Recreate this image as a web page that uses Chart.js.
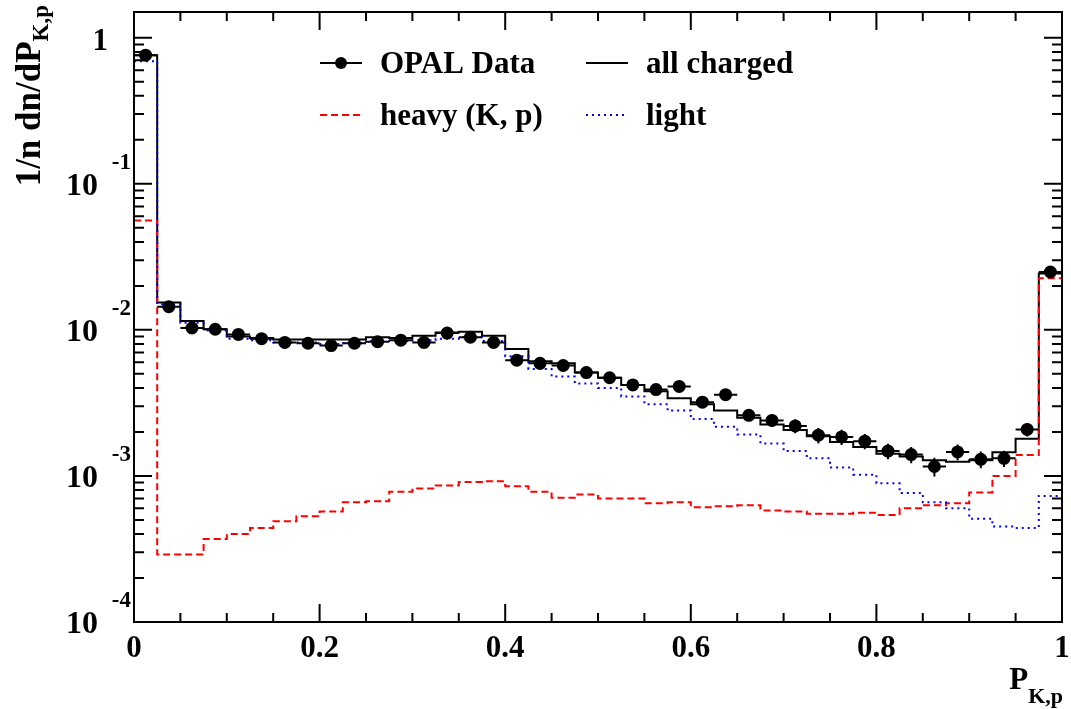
<!DOCTYPE html>
<html>
<head>
<meta charset="utf-8">
<script src="https://cdn.jsdelivr.net/npm/chart.js@4.4.1/dist/chart.umd.min.js"></script>
<style>
  html, body { margin: 0; padding: 0; background: #fff; }
  canvas { display: block; }
</style>
</head>
<body>
<canvas id="chart" width="1071" height="709"></canvas>
<script>
// bin edges in P_K,p (40 bins of 0.025)
const binEdges = [0.000, 0.025, 0.050, 0.075, 0.100, 0.125, 0.150, 0.175, 0.200, 0.225,
  0.250, 0.275, 0.300, 0.325, 0.350, 0.375, 0.400, 0.425, 0.450, 0.475,
  0.500, 0.525, 0.550, 0.575, 0.600, 0.625, 0.650, 0.675, 0.700, 0.725,
  0.750, 0.775, 0.800, 0.825, 0.850, 0.875, 0.900, 0.925, 0.950, 0.975, 1.000];

const opalData = [0.76, 0.0144, 0.0103, 0.0101, 0.0093, 0.0087, 0.0082, 0.0081, 0.0078, 0.0081,
  0.0083, 0.0085, 0.0082, 0.0095, 0.0089, 0.0082, 0.0062, 0.0059, 0.0057, 0.0051,
  0.0047, 0.0042, 0.0039, 0.0041, 0.0032, 0.0036, 0.0026, 0.0024, 0.0022, 0.0019,
  0.00185, 0.00173, 0.00148, 0.0014, 0.00116, 0.00146, 0.0013, 0.00132, 0.00208, 0.0249];

const opalErr = [0.01, 0.0004, 0.0003, 0.0003, 0.0003, 0.0003, 0.0002, 0.0002, 0.0002, 0.0002,
  0.0002, 0.0002, 0.0002, 0.0003, 0.0003, 0.0003, 0.0003, 0.0004, 0.0004, 0.0003,
  0.0003, 0.0003, 0.0003, 0.0003, 0.0002, 0.0003, 0.0002, 0.00024, 0.00024, 0.00023,
  0.00022, 0.00021, 0.00018, 0.00018, 0.00017, 0.00018, 0.00017, 0.00017, 0.00022, 0.0012];

const allCharged = [0.76, 0.0154, 0.0115, 0.0101, 0.0090, 0.0088, 0.0086, 0.0086, 0.0086, 0.0086,
  0.0089, 0.0088, 0.0091, 0.0096, 0.0097, 0.0091, 0.0074, 0.0061, 0.0059, 0.0051,
  0.0047, 0.0042, 0.0038, 0.0034, 0.0031, 0.0028, 0.0025, 0.00225, 0.00206, 0.00187,
  0.00171, 0.00158, 0.00142, 0.00136, 0.00128, 0.00125, 0.00128, 0.00145, 0.0018, 0.0243];

const heavyKp = [0.056, 0.00029, 0.00029, 0.00037, 0.00040, 0.00044, 0.00049, 0.00053, 0.00057, 0.00066,
  0.00067, 0.00078, 0.00082, 0.00086, 0.00091, 0.00092, 0.00085, 0.00078, 0.00071, 0.000745,
  0.00070, 0.00070, 0.00065, 0.00066, 0.00061, 0.00062, 0.00063, 0.00058, 0.00057, 0.00055,
  0.00055, 0.00056, 0.00054, 0.00060, 0.00063, 0.00065, 0.00077, 0.00100, 0.00139, 0.0226];

const lightHad = [0.69, 0.0150, 0.0112, 0.0099, 0.0087, 0.0085, 0.0082, 0.0082, 0.0080, 0.0081,
  0.0084, 0.0084, 0.0085, 0.0087, 0.0089, 0.0084, 0.0066, 0.0054, 0.0048, 0.0043,
  0.0040, 0.0035, 0.0031, 0.0028, 0.00245, 0.00217, 0.00192, 0.00167, 0.00148, 0.00132,
  0.00114, 0.00102, 0.00089, 0.000765, 0.00066, 0.00060, 0.00051, 0.00045, 0.00044, 0.00073];

const xTickLabels = ['0', '0.2', '0.4', '0.6', '0.8', '1'];
const xTickValues = [0, 0.2, 0.4, 0.6, 0.8, 1];
const yDecades = [0, -1, -2, -3, -4];

const FONT = '"Liberation Serif", "Times New Roman", serif';

const histPoints = vals => binEdges.map((e, i) => ({ x: e, y: vals[Math.min(i, vals.length - 1)] }));
const binCentres = binEdges.slice(0, -1).map((e, i) => (e + binEdges[i + 1]) / 2);

const errorBars = {
  id: 'errorBars',
  afterDatasetsDraw(chart) {
    const { ctx, scales: { x, y } } = chart;
    ctx.save();
    ctx.strokeStyle = '#000';
    ctx.lineWidth = 2;
    binCentres.forEach((c, i) => {
      const px = x.getPixelForValue(c);
      const py = y.getPixelForValue(opalData[i]);
      ctx.beginPath();
      ctx.moveTo(x.getPixelForValue(binEdges[i]), py);
      ctx.lineTo(x.getPixelForValue(binEdges[i + 1]), py);
      ctx.moveTo(px, y.getPixelForValue(opalData[i] - opalErr[i]));
      ctx.lineTo(px, y.getPixelForValue(opalData[i] + opalErr[i]));
      ctx.stroke();
    });
    ctx.restore();
  }
};

const frame = {
  id: 'frame',
  afterDraw(chart) {
    const { ctx, chartArea: a, scales: { x, y } } = chart;
    ctx.save();
    ctx.strokeStyle = '#000';
    ctx.fillStyle = '#000';
    ctx.lineWidth = 2;
    ctx.strokeRect(a.left, a.top, a.right - a.left, a.bottom - a.top);

    // x ticks, bottom and top
    ctx.beginPath();
    for (let k = 0; k <= 20; k++) {
      const v = k * 0.05;
      const px = x.getPixelForValue(v);
      const len = k % 4 === 0 ? 18 : 9;
      ctx.moveTo(px, a.bottom); ctx.lineTo(px, a.bottom - len);
      ctx.moveTo(px, a.top); ctx.lineTo(px, a.top + len);
    }
    // y ticks, left and right
    yDecades.forEach(d => {
      for (let m = 1; m <= 9; m++) {
        const v = m * Math.pow(10, d);
        if (v > y.max || v <= y.min) continue;
        const py = y.getPixelForValue(v);
        const len = m === 1 ? 18 : 10;
        ctx.moveTo(a.left, py); ctx.lineTo(a.left + len, py);
        ctx.moveTo(a.right, py); ctx.lineTo(a.right - len, py);
      }
    });
    ctx.stroke();

    // x tick labels
    ctx.font = 'bold 31px ' + FONT;
    ctx.textAlign = 'center';
    ctx.textBaseline = 'alphabetic';
    xTickValues.forEach((v, i) => {
      ctx.fillText(xTickLabels[i], x.getPixelForValue(v), 657);
    });

    // y tick labels
    yDecades.forEach(d => {
      const py = y.getPixelForValue(Math.pow(10, d));
      ctx.textAlign = 'right';
      if (d === 0) {
        ctx.font = 'bold 31px ' + FONT;
        ctx.fillText('1', 108, py + 12);
      } else {
        ctx.font = 'bold 32px ' + FONT;
        ctx.fillText('10', 98, py + 11);
        ctx.font = 'bold 23px ' + FONT;
        ctx.fillText(String(d), 131, py - 15);
      }
    });

    // y axis title
    ctx.save();
    ctx.font = 'bold 35px ' + FONT;
    const mainY = '1/n dn/dP';
    const wMain = ctx.measureText(mainY).width;
    ctx.font = 'bold 23px ' + FONT;
    const wSub = ctx.measureText('K,p').width;
    ctx.translate(40, 5 + wMain + wSub);
    ctx.rotate(-Math.PI / 2);
    ctx.textAlign = 'left';
    ctx.font = 'bold 35px ' + FONT;
    ctx.fillText(mainY, 0, 0);
    ctx.font = 'bold 23px ' + FONT;
    ctx.fillText('K,p', wMain, 8);
    ctx.restore();

    // x axis title
    ctx.textAlign = 'right';
    ctx.font = 'bold 22px ' + FONT;
    const wSubX = ctx.measureText('K,p').width;
    ctx.fillText('K,p', 1063, 703);
    ctx.font = 'bold 31px ' + FONT;
    ctx.fillText('P', 1063 - wSubX, 689);

    // legend
    const ds = chart.data.datasets;
    const entry = (d, x0, yc, withMarker) => {
      ctx.save();
      ctx.strokeStyle = d.borderColor;
      ctx.lineWidth = d.borderWidth || 2;
      ctx.setLineDash(d.borderDash || []);
      ctx.beginPath();
      ctx.moveTo(x0, yc); ctx.lineTo(x0 + 42, yc);
      ctx.stroke();
      if (withMarker) {
        ctx.fillStyle = d.pointBackgroundColor;
        ctx.beginPath();
        ctx.arc(x0 + 21, yc, 6, 0, Math.PI * 2);
        ctx.fill();
      }
      ctx.restore();
      ctx.textAlign = 'left';
      ctx.font = 'bold 31px ' + FONT;
      ctx.fillText(d.label, x0 + 60, yc + 10);
    };
    entry(ds[0], 320, 63, true);
    entry(ds[3], 586, 63, false);
    entry(ds[2], 320, 115, false);
    entry(ds[1], 586, 115, false);
    ctx.restore();
  }
};

new Chart(document.getElementById('chart'), {
  type: 'line',
  data: {
    datasets: [
      {
        label: 'OPAL Data',
        data: binCentres.map((c, i) => ({ x: c, y: opalData[i] })),
        showLine: false,
        borderColor: '#000',
        borderWidth: 2,
        pointRadius: 5.5,
        pointBackgroundColor: '#000',
        pointBorderColor: '#000',
        order: 0
      },
      {
        label: 'light',
        data: histPoints(lightHad),
        stepped: true,
        borderColor: '#0000ff',
        borderWidth: 2,
        borderDash: [2, 4],
        pointRadius: 0,
        fill: false,
        order: 1
      },
      {
        label: 'heavy (K, p)',
        data: histPoints(heavyKp),
        stepped: true,
        borderColor: '#ff0000',
        borderWidth: 2,
        borderDash: [7, 4],
        pointRadius: 0,
        fill: false,
        order: 2
      },
      {
        label: 'all charged',
        data: histPoints(allCharged),
        stepped: true,
        borderColor: '#000',
        borderWidth: 2,
        pointRadius: 0,
        fill: false,
        order: 3
      }
    ]
  },
  options: {
    responsive: false,
    animation: false,
    layout: { padding: { left: 134, right: 9, top: 12, bottom: 87 } },
    plugins: { legend: { display: false }, tooltip: { enabled: false } },
    scales: {
      x: { type: 'linear', min: 0, max: 1, display: false },
      y: { type: 'logarithmic', min: 1e-4, max: 1.5, display: false }
    }
  },
  plugins: [errorBars, frame]
});
</script>
</body>
</html>
